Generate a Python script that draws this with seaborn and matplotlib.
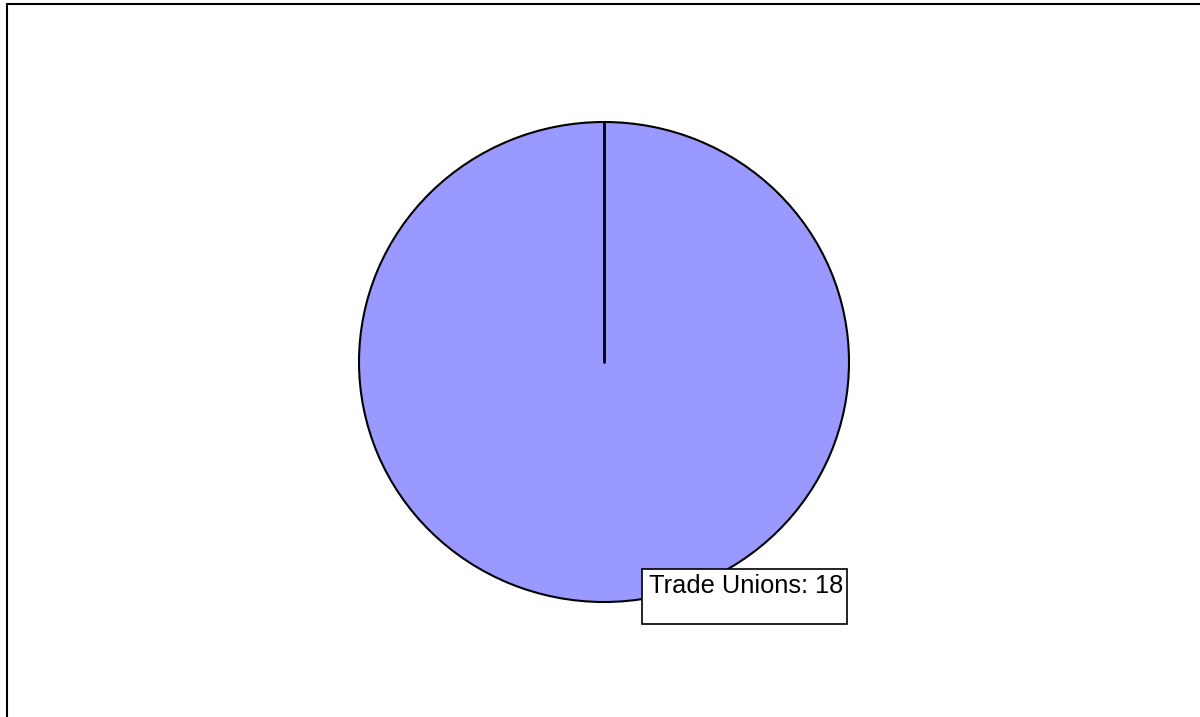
import matplotlib
matplotlib.use("Agg")
import matplotlib.pyplot as plt
from matplotlib.patches import Rectangle
from matplotlib.lines import Line2D
import seaborn as sns

# data
categories = ["Trade Unions"]
values = [18]
slice_colors = ["#9999FF"]

sns.set_theme(style="white")
plt.rcParams["font.family"] = ["Liberation Sans", "DejaVu Sans"]

W, H = 1200, 717
fig = plt.figure(figsize=(W / 100, H / 100), dpi=100)
ax = fig.add_axes([0, 0, 1, 1])

# pie centre and radius in pixels
cx, cy, rx, ry = 604, 362, 245, 240

ax.pie(values, colors=slice_colors, startangle=90, counterclock=False,
       wedgeprops={"edgecolor": "black", "linewidth": 1.5})
# radial boundary line of the (single) slice
ax.plot([0, 0], [0, 1], color="black", lw=2)

ax.set_aspect("auto")
ax.set_xlim(-cx / rx, (W - cx) / rx)
ax.set_ylim((cy - H) / ry, cy / ry)
ax.axis("off")

# label box
for cat, val in zip(categories, values):
    x0, y0 = (642 - cx) / rx, (cy - 624) / ry
    ax.add_patch(Rectangle((x0, y0), (847 - 642) / rx, (624 - 569) / ry,
                           facecolor="white", edgecolor="black", lw=1.2, zorder=5))
    ax.text((649 - cx) / rx, (cy - 574) / ry, f"{cat}: {val}", fontsize=18.3,
            ha="left", va="top", color="black", zorder=6)

# outer frame (left and top edges)
fig.add_artist(Line2D([7 / W, 7 / W], [0, 1 - 4 / H], color="black", lw=1.5,
                      transform=fig.transFigure))
fig.add_artist(Line2D([7 / W, 1], [1 - 4 / H, 1 - 4 / H], color="black", lw=1.5,
                      transform=fig.transFigure))

fig.savefig("out.png", dpi=100)
